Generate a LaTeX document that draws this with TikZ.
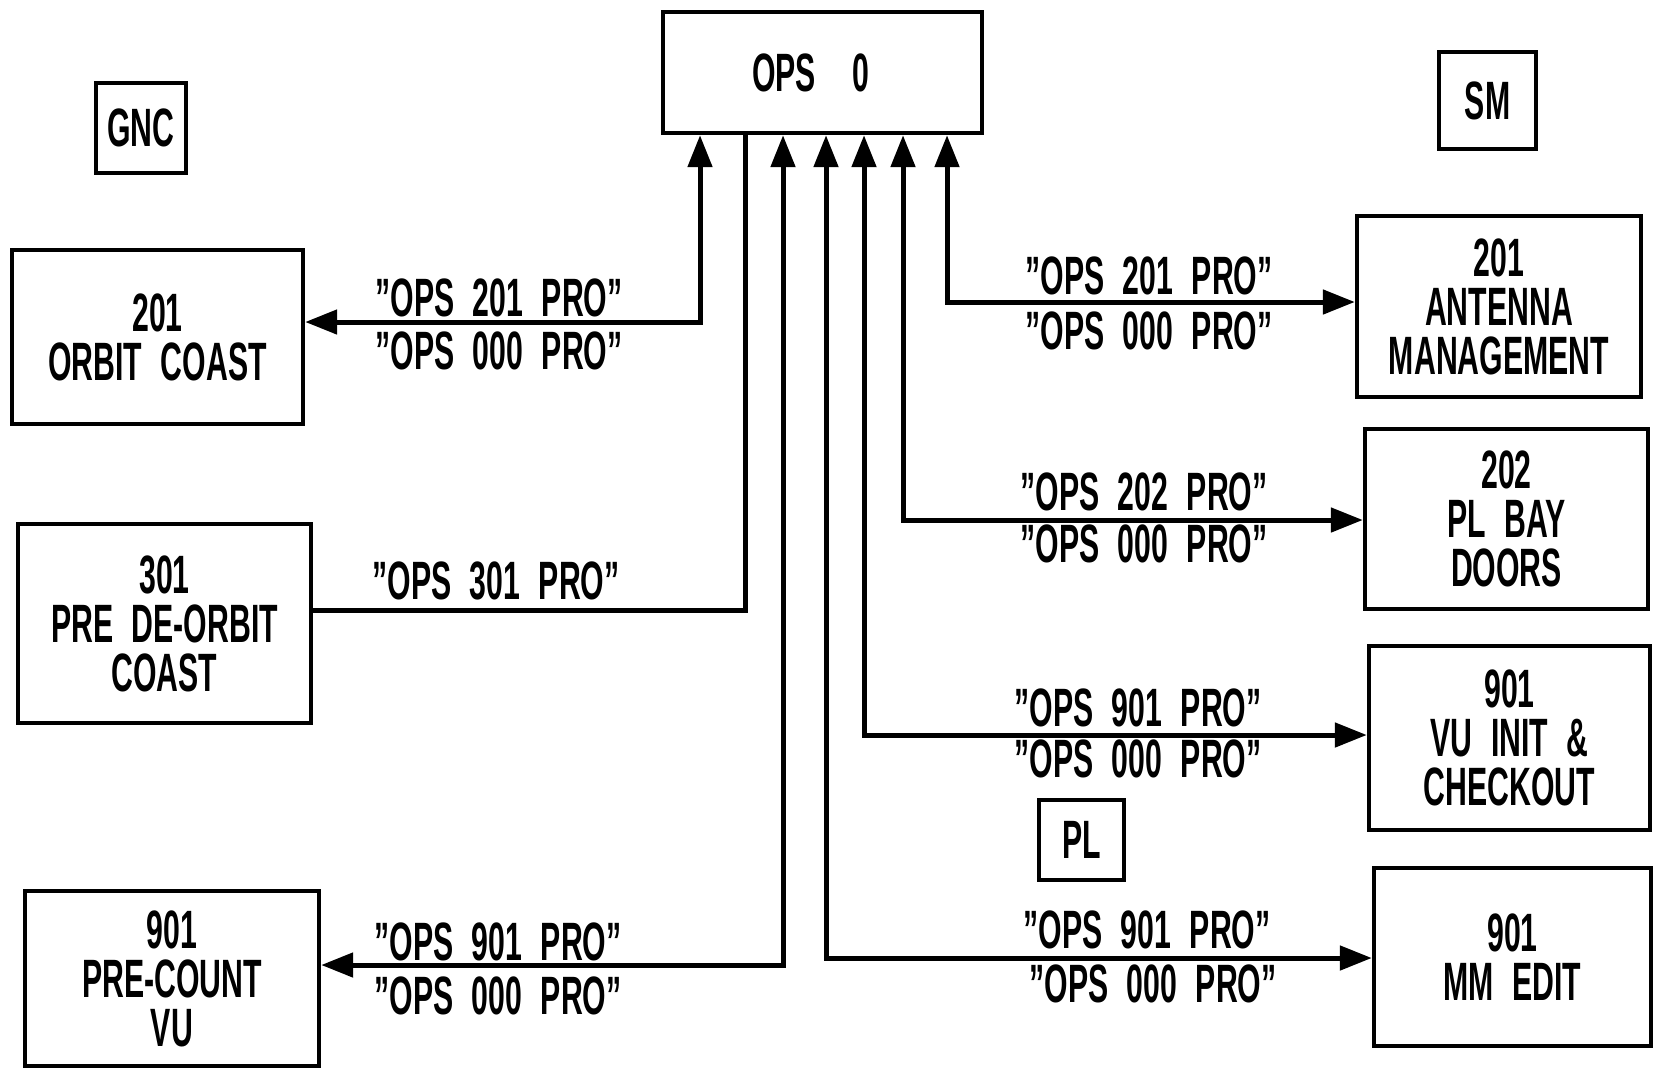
\documentclass[tikz,border=0pt]{standalone}
\usepackage{fontspec}
\setmainfont{Liberation Sans}[FakeStretch=0.56,WordSpace=2.2]
\usetikzlibrary{arrows.meta}
\begin{document}
\begin{tikzpicture}[x=0.5pt,y=-0.5pt,
  >={Triangle[length=16pt,width=12pt]},
  box/.style={draw,line width=2.2pt,inner sep=0pt,align=center,
    font=\fontsize{27}{24.5}\selectfont\bfseries},
  lbl/.style={inner sep=0pt,font=\fontsize{27}{24.5}\selectfont\bfseries},
  wire/.style={line width=2.5pt}]
\useasboundingbox (0,0) rectangle (1654,1071);

% boxes
\node[box,minimum width=159.5pt,minimum height=60.5pt] (ops) at (822.5,72.5) {OPS\hspace{18pt}0\hspace*{12pt}};
\node[box,minimum width=45pt,minimum height=45pt] (gnc) at (141,128) {GNC};
\node[box,minimum width=48.5pt,minimum height=48.5pt] (sm) at (1487.5,100.5) {SM};
\node[box,minimum width=42.5pt,minimum height=40pt] (pl) at (1081.5,840) {PL};

\node[box,minimum width=145.5pt,minimum height=87pt] (orbit) at (157.5,337) {201\\ORBIT COAST};
\node[box,minimum width=146.5pt,minimum height=99.5pt] (deorbit) at (164.5,623.5) {301\\PRE DE-ORBIT\\COAST};
\node[box,minimum width=147pt,minimum height=87.5pt] (precount) at (172,978.5) {901\\PRE-COUNT\\VU};

\node[box,minimum width=142pt,minimum height=90.5pt] (antenna) at (1499,306.5) {201\\ANTENNA\\MANAGEMENT};
\node[box,minimum width=141.5pt,minimum height=90pt] (plbay) at (1506.5,519) {202\\PL BAY\\DOORS};
\node[box,minimum width=140.5pt,minimum height=92pt] (vuinit) at (1509.5,738) {901\\VU INIT \&\\CHECKOUT};
\node[box,minimum width=138.5pt,minimum height=89pt] (mmedit) at (1512.5,957) {901\\MM EDIT};

% junction points
\coordinate (j1) at (700,322);
\coordinate (j2) at (745,610);
\coordinate (j3) at (783,965);
\coordinate (j4) at (826,958);
\coordinate (j5) at (864,735);
\coordinate (j6) at (903,520);
\coordinate (j7) at (947,302);

% connectors
\draw[wire,<->] (j1 |- ops.south) -- (j1) -- (orbit.east |- j1);
\draw[wire] (j2 |- ops.south) -- (j2) -- (deorbit.east |- j2);
\draw[wire,<->] (j3 |- ops.south) -- (j3) -- (precount.east |- j3);
\draw[wire,<->] (j4 |- ops.south) -- (j4) -- (mmedit.west |- j4);
\draw[wire,<->] (j5 |- ops.south) -- (j5) -- (vuinit.west |- j5);
\draw[wire,<->] (j6 |- ops.south) -- (j6) -- (plbay.west |- j6);
\draw[wire,<->] (j7 |- ops.south) -- (j7) -- (antenna.west |- j7);

% labels
\node[lbl] (l1a) at (499,298) {"OPS 201 PRO"};
\node[lbl] (l1b) at (499,351) {"OPS 000 PRO"};
\node[lbl] (l2a) at (496,581) {"OPS 301 PRO"};
\node[lbl] (l3a) at (498,942) {"OPS 901 PRO"};
\node[lbl] (l3b) at (498,996) {"OPS 000 PRO"};
\node[lbl] (r7a) at (1149,276) {"OPS 201 PRO"};
\node[lbl] (r7b) at (1149,331) {"OPS 000 PRO"};
\node[lbl] (r6a) at (1144,492) {"OPS 202 PRO"};
\node[lbl] (r6b) at (1144,544) {"OPS 000 PRO"};
\node[lbl] (r5a) at (1138,708) {"OPS 901 PRO"};
\node[lbl] (r5b) at (1138,759) {"OPS 000 PRO"};
\node[lbl] (r4a) at (1147,930) {"OPS 901 PRO"};
\node[lbl] (r4b) at (1153,984) {"OPS 000 PRO"};
\end{tikzpicture}
\end{document}
